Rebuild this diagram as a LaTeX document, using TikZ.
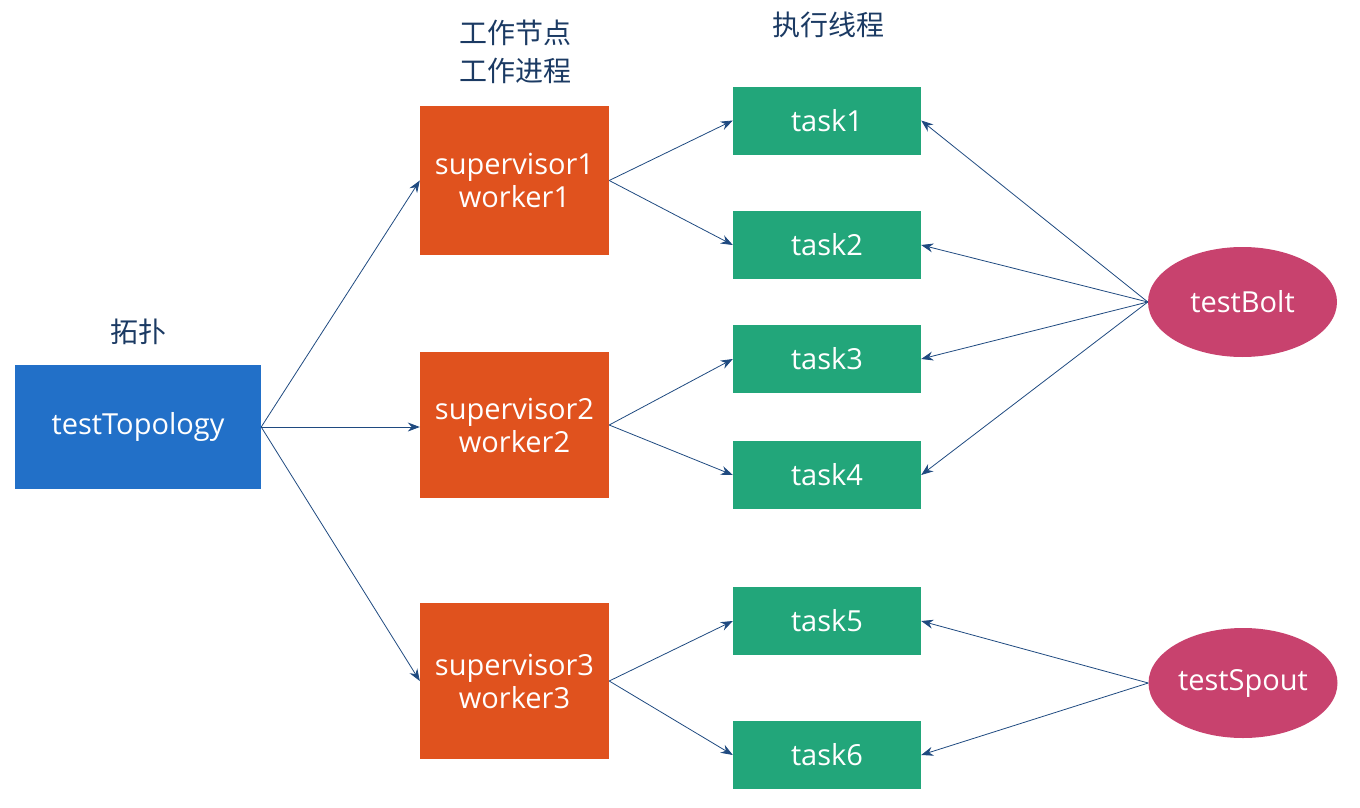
\documentclass[tikz,border=0pt]{standalone}
\usepackage{fontspec}
\setmainfont{Open Sans}
\newfontfamily\cjk{Noto Sans CJK SC}
\usetikzlibrary{arrows.meta,shapes.geometric}
\definecolor{topblue}{HTML}{2270C8}
\definecolor{suporange}{HTML}{E0521E}
\definecolor{taskgreen}{HTML}{22A67A}
\definecolor{ellpink}{HTML}{C8426E}
\definecolor{arrblue}{HTML}{1F4A80}
\definecolor{lblblue}{HTML}{1B3A63}
\tikzset{
  box/.style={rectangle, inner sep=0pt, text=white, font=\fontsize{29}{33}\selectfont, align=center},
  topo/.style={box, fill=topblue, minimum width=246pt, minimum height=124pt},
  sup/.style={box, fill=suporange, minimum width=189pt},
  taskbox/.style={box, fill=taskgreen, minimum width=188pt, minimum height=68pt},
  ell/.style={ellipse, inner sep=0pt, fill=ellpink, text=white, font=\fontsize{29}{33}\selectfont, minimum width=189pt, minimum height=110pt},
  lbl/.style={text=lblblue, font=\cjk\fontsize{28}{38}\selectfont, align=center},
  conn/.style={draw=arrblue, line width=0.8pt, -{Stealth[length=12pt,width=9pt]}}
}
\begin{document}
\begin{tikzpicture}[x=1pt,y=-1pt]
\useasboundingbox (0,0) rectangle (1360,808);
\node[topo] (topo) at (138,427) {testTopology};
\node[sup, minimum height=149pt] (s1) at (514.5,180.5) {supervisor1\\worker1};
\node[sup, minimum height=146pt] (s2) at (514.5,425) {supervisor2\\worker2};
\node[sup, minimum height=156pt] (s3) at (514.5,681) {supervisor3\\worker3};
\node[taskbox] (t1) at (827,120.5) {task1};
\node[taskbox] (t2) at (827,245) {task2};
\node[taskbox] (t3) at (827,359) {task3};
\node[taskbox] (t4) at (827,475) {task4};
\node[taskbox] (t5) at (827,621) {task5};
\node[taskbox] (t6) at (827,755) {task6};
\node[ell] (bolt) at (1242.5,302) {testBolt};
\node[ell] (spout) at (1243,683) {testSpout};
\node[lbl] (ltopo) at (138,332) {拓扑};
\node[lbl] (lsup) at (515,52) {工作节点\\工作进程};
\node[lbl] (ltask) at (828,25) {执行线程};
\draw[conn] (topo.east) -- (s1.west);
\draw[conn] (topo.east) -- (topo.east -| s2.west);
\draw[conn] (topo.east) -- (s3.west);
\draw[conn] (s1.east) -- (t1.west);
\draw[conn] (s1.east) -- (t2.west);
\draw[conn] (s2.east) -- (t3.west);
\draw[conn] (s2.east) -- (t4.west);
\draw[conn] (s3.east) -- (t5.west);
\draw[conn] (s3.east) -- (t6.west);
\foreach \t in {t1,t2,t3,t4} \draw[conn] (bolt.west) -- (\t.east);
\draw[conn] (spout.west) -- (t5.east);
\draw[conn] (spout.west) -- (t6.east);
\end{tikzpicture}
\end{document}
